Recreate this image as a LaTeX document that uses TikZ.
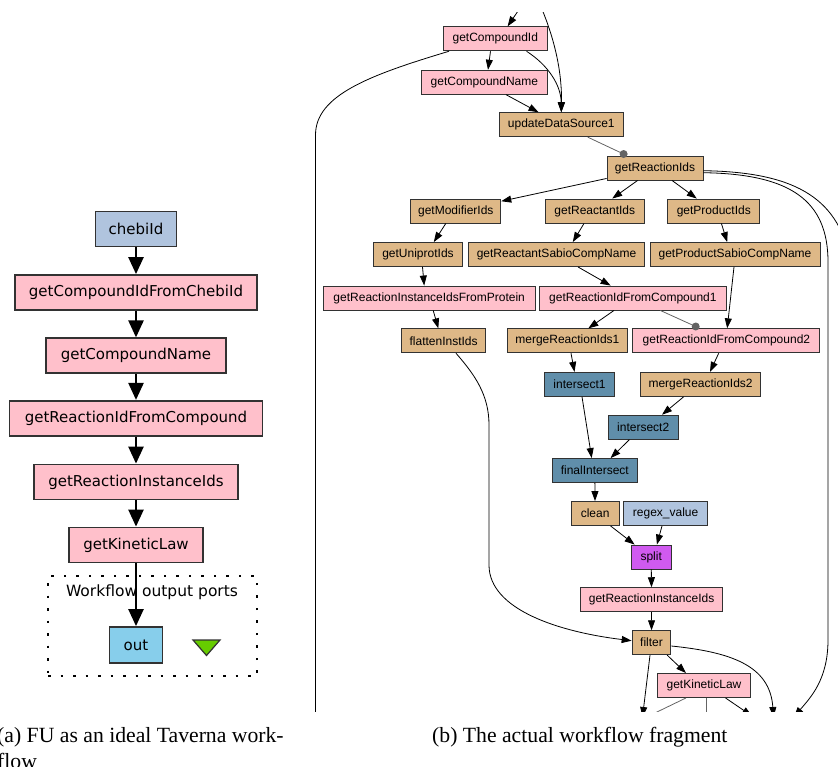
\documentclass[tikz,border=0pt]{standalone}
\usepackage{fontspec}
\setmainfont{Liberation Serif}
\newfontfamily\tavfont{DejaVu Sans}
\newfontfamily\dotfont{Liberation Sans}
\usetikzlibrary{arrows.meta}
\definecolor{procpink}{RGB}{255,192,203}
\definecolor{beantan}{RGB}{222,184,135}
\definecolor{steelbox}{RGB}{96,142,170}
\definecolor{constblue}{RGB}{176,196,222}
\definecolor{splitpurple}{RGB}{208,90,240}
\definecolor{portblue}{RGB}{135,206,235}
\definecolor{portgreen}{RGB}{102,204,0}
\definecolor{edgegray}{RGB}{100,100,100}
\definecolor{boxline}{RGB}{50,50,50}

\begin{document}
\begin{tikzpicture}[x=1pt,y=-1pt]

	\tikzstyle{tav}=[draw=boxline,line width=1.8pt,rectangle,minimum height=35pt,inner sep=2pt,font=\tavfont\fontsize{15}{18}\selectfont]
	\tikzstyle{tavarrow}=[line width=2.4pt,-{Triangle[length=17pt,width=15pt]}]
	\tikzstyle{proc}=[draw=boxline,line width=0.9pt,rectangle,minimum height=24pt,inner sep=2pt,font=\dotfont\fontsize{12}{14}\selectfont]
	\tikzstyle{link}=[line width=0.8pt,-{Triangle[length=10pt,width=7pt]}]
	\tikzstyle{dotlink}=[line width=0.8pt,edgegray]
	\tikzstyle{caption}=[anchor=base west,inner sep=0pt,font=\fontsize{21.7}{26}\selectfont]

	\useasboundingbox (0,0) rectangle (838,766);

	% (a) ideal workflow
	\node[tav,fill=constblue,minimum width=81pt] (chebi) at (136,229) {chebiId};
	\node[tav,fill=procpink,minimum width=242pt] (lcompid) at (136,292.5) {getCompoundIdFromChebiId};
	\node[tav,fill=procpink,minimum width=180pt] (lcompname) at (136,355.8) {getCompoundName};
	\node[tav,fill=procpink,minimum width=253pt] (lreacid) at (136,418.3) {getReactionIdFromCompound};
	\node[tav,fill=procpink,minimum width=204pt] (linstids) at (136,482) {getReactionInstanceIds};
	\node[tav,fill=procpink,minimum width=134pt] (lkinlaw) at (136,545) {getKineticLaw};

	\node[draw,dash pattern=on 2.5pt off 10pt,line width=1.6pt,minimum width=209pt,minimum height=100pt] (ports) at (152.5,626) {};
	\node[font=\tavfont\fontsize{15.5}{18}\selectfont] (portslabel) at (152,592) {Workflow output ports};
	\node[tav,fill=portblue,minimum width=53pt,minimum height=36pt] (out) at (136,645) {out};
	\filldraw[fill=portgreen,draw=boxline,line width=1.2pt] (193,640) -- (220,640) -- (206.5,655.5) -- cycle;

	\draw[tavarrow] (chebi) -- (lcompid);
	\draw[tavarrow] (lcompid) -- (lcompname);
	\draw[tavarrow] (lcompname) -- (lreacid);
	\draw[tavarrow] (lreacid) -- (linstids);
	\draw[tavarrow] (linstids) -- (lkinlaw);
	\draw[tavarrow] (lkinlaw) -- (out);

	% (b) actual workflow fragment
	\begin{scope}
	\clip (300,12.5) rectangle (838,711);

	\node[proc,fill=procpink,minimum width=103.7pt] (compid) at (495.3,38.8) {getCompoundId};
	\node[proc,fill=procpink,minimum width=125.2pt] (compname) at (484.4,82.2) {getCompoundName};
	\node[proc,fill=beantan,minimum width=124.6pt] (update) at (561.3,124.7) {updateDataSource1};
	\node[proc,fill=beantan,minimum width=96pt] (reacids) at (655,168) {getReactionIds};
	\node[proc,fill=beantan,minimum width=90pt] (modids) at (455.8,211) {getModifierIds};
	\node[proc,fill=beantan,minimum width=98.8pt] (reactantids) at (594.8,211) {getReactantIds};
	\node[proc,fill=beantan,minimum width=91.9pt] (productids) at (713.8,211) {getProductIds};
	\node[proc,fill=beantan,minimum width=88.5pt] (uniprot) at (418,254.5) {getUniprotIds};
	\node[proc,fill=beantan,minimum width=175.4pt] (reactsabio) at (556.5,254.5) {getReactantSabioCompName};
	\node[proc,fill=beantan,minimum width=169.9pt] (prodsabio) at (735,254.5) {getProductSabioCompName};
	\node[proc,fill=procpink,minimum width=211.7pt] (instprot) at (429.2,298) {getReactionInstanceIdsFromProtein};
	\node[proc,fill=procpink,minimum width=187.4pt] (fromcomp1) at (632.9,298) {getReactionIdFromCompound1};
	\node[proc,fill=beantan,minimum width=83.4pt] (flatten) at (443.6,340.8) {flattenInstIds};
	\node[proc,fill=beantan,minimum width=120.7pt] (merge1) at (567.4,340.8) {mergeReactionIds1};
	\node[proc,fill=procpink,minimum width=187pt] (fromcomp2) at (726.4,340.8) {getReactionIdFromCompound2};
	\node[proc,fill=steelbox,minimum width=70.4pt] (inter1) at (579.5,384.3) {intersect1};
	\node[proc,fill=beantan,minimum width=120.5pt] (merge2) at (700.6,384.3) {mergeReactionIds2};
	\node[proc,fill=steelbox,minimum width=70pt] (inter2) at (643.2,427.2) {intersect2};
	\node[proc,fill=steelbox,minimum width=84.4pt] (finalint) at (594.8,470.5) {finalIntersect};
	\node[proc,fill=beantan,minimum width=48pt] (clean) at (595.1,513.5) {clean};
	\node[proc,fill=constblue,minimum width=84.1pt] (regex) at (665.6,513.5) {regex\_value};
	\node[proc,fill=splitpurple,minimum width=40.1pt] (split) at (651.2,557) {split};
	\node[proc,fill=procpink,minimum width=142.4pt] (instids) at (651.6,599.7) {getReactionInstanceIds};
	\node[proc,fill=beantan,minimum width=38.8pt] (filter) at (651.5,642.7) {filter};
	\node[proc,fill=procpink,minimum width=93.8pt] (kinlaw) at (704,685.5) {getKineticLaw};

	\coordinate (in1) at (525.5,0);
	\coordinate (in2) at (538,0);
	\coordinate (leftend) at (315.5,730);
	\coordinate (offright) at (850,300);
	\coordinate (dot1) at (623.6,154);
	\coordinate (dot2) at (695.7,326.5);
	\coordinate (fdown) at (642.5,717);
	\coordinate (kb1) at (648.7,716);
	\coordinate (kb2) at (706,716);
	\coordinate (kb3) at (752,716);
	\coordinate (fright) at (773.5,717);
	\coordinate (rright) at (794,717);

	\draw[link] (in1) -- ([xshift=12.3pt]compid.north);
	\draw[link] (in2) .. controls (556,40) and (562,75) .. (update.north);
	\draw[link] ([xshift=-4.8pt]compid.south) -- ([xshift=3.6pt]compname.north);
	\draw[link] ([xshift=31.2pt]compid.south) .. controls (548,65) and (561,85) .. (update.north);
	\draw[link] ([xshift=21.6pt]compname.south) -- ([xshift=-22.8pt]update.north);
	\draw[line width=0.8pt] ([xshift=6pt]compid.south west) .. controls (370,75) and (315.5,95) .. (315.5,135) -- (leftend);
	\draw[dotlink] (update) -- (dot1);
	\fill[edgegray] (dot1) circle (4);

	\draw[link] (reacids) -- (modids);
	\draw[link] (reacids) -- (reactantids);
	\draw[link] (reacids) -- (productids);
	\draw[line width=0.8pt] ([yshift=-2.7pt]reacids.east) .. controls (790,172) and (838,195) .. (850,260) -- (offright);
	\draw[link] ([yshift=-4.7pt]reacids.east) .. controls (790,174) and (828,200) .. (828,262) -- (828,640) .. controls (828,680) and (810,698) .. (rright);

	\draw[link] ([xshift=-10pt]modids.south) -- ([xshift=15.8pt]uniprot.north);
	\draw[link] ([xshift=-10.8pt]reactantids.south) -- ([xshift=16.3pt]reactsabio.north);
	\draw[link] ([xshift=7.6pt]productids.south) -- ([xshift=-7.8pt]prodsabio.north);
	\draw[link] ([xshift=4.5pt]uniprot.south) -- ([xshift=-5pt]instprot.north);
	\draw[link] ([xshift=21.5pt]reactsabio.south) -- ([xshift=-22.3pt]fromcomp1.north);
	\draw[link] ([xshift=-1pt]prodsabio.south) -- ([xshift=0.8pt]fromcomp2.north);
	\draw[link] ([xshift=4pt]instprot.south) -- ([xshift=-5.3pt]flatten.north);
	\draw[link] ([xshift=-18.9pt]fromcomp1.south) -- ([xshift=20.9pt]merge1.north);
	\draw[dotlink] ([xshift=27.4pt]fromcomp1.south) -- (dot2);
	\fill[edgegray] (dot2) circle (4);
	\draw[link] ([xshift=3.6pt]merge1.south) -- ([xshift=-5pt]inter1.north);
	\draw[link] ([xshift=-7.7pt]fromcomp2.south) -- ([xshift=9.4pt]merge2.north);
	\draw[link] ([xshift=-16.9pt]merge2.south) -- ([xshift=18.8pt]inter2.north);
	\draw[link] ([xshift=2.5pt]inter1.south) -- ([xshift=-3.1pt]finalint.north);
	\draw[link] ([xshift=-13.8pt]inter2.south) -- ([xshift=15.8pt]finalint.north);
	\draw[link] (finalint) -- (clean);
	\draw[link] ([xshift=15.5pt]clean.south) -- ([xshift=-16.6pt]split.north);
	\draw[link] ([xshift=-3.6pt]regex.south) -- ([xshift=5.7pt]split.north);
	\draw[link] (split) -- (instids);
	\draw[link] (instids) -- (filter);
	\draw[link] ([xshift=12.4pt]flatten.south) .. controls (475,375) and (489,395) .. (489,425) -- (489,565) .. controls (489,610) and (560,632) .. ([yshift=2pt]filter.west);

	\draw[link] ([xshift=-1.5pt]filter.south) -- (fdown);
	\draw[link] ([xshift=15.7pt]filter.south) -- ([xshift=-18pt]kinlaw.north);
	\draw[link] ([yshift=-3.3pt]filter.east) .. controls (730,652) and (770,665) .. (fright);
	\draw[dotlink] ([xshift=-18pt]kinlaw.south) -- (kb1);
	\draw[dotlink] ([xshift=2pt]kinlaw.south) -- (kb2);
	\draw[link] ([xshift=21.5pt]kinlaw.south) -- (kb3);
	\end{scope}

	% captions
	\node[caption] (capa) at (-3,742) {(a) FU as an ideal Taverna work-};
	\node[caption] (capaflow) at (-3,768) {flow};
	\node[caption] (capb) at (432,742) {(b) The actual workflow fragment};

\end{tikzpicture}
\end{document}
